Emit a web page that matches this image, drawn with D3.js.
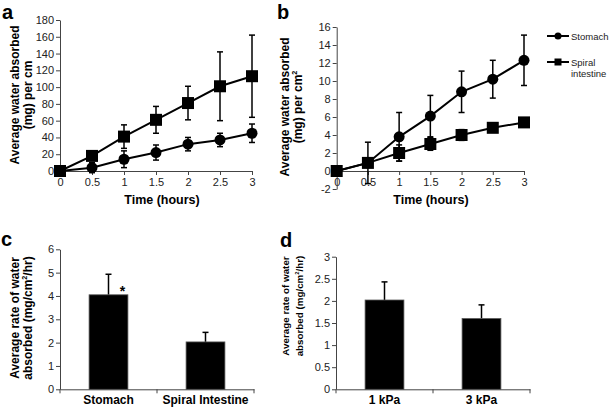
<!DOCTYPE html>
<html>
<head>
<meta charset="utf-8">
<script src="https://cdn.jsdelivr.net/npm/d3@7"></script>
<style>
  body { margin: 0; background: #fff; }
  svg text { font-family: "Liberation Sans", Arial, sans-serif; }
</style>
</head>
<body>
<script>
// time points (hours)
var hours = [0, 0.5, 1, 1.5, 2, 2.5, 3];

// panel a: mg per cm
var aStomach = [0, 4, 14, 22, 32, 37, 45];
var aStomachErr = [0, 6, 10, 9, 8, 8, 11];
var aSpiral = [0, 18, 41, 61, 81, 101, 113];
var aSpiralErr = [0, 4, 14, 16, 20, 41, 49];

// panel b: mg per cm2
var bStomach = [0, 0.9, 3.8, 6.1, 8.8, 10.2, 12.3];
var bStomachErr = [0, 2.3, 2.7, 2.3, 2.3, 2.1, 2.8];
var bSpiral = [0, 0.9, 2.0, 3.0, 4.0, 4.8, 5.4];
var bSpiralErr = [0, 0.3, 0.9, 0.7, 0.6, 0.3, 0.3];

// panel c
var cCats = ["Stomach", "Spiral Intestine"];
var cVals = [4.05, 2.03];
var cErr = [0.88, 0.41];

// panel d
var dCats = ["1 kPa", "3 kPa"];
var dVals = [2.02, 1.6];
var dErr = [0.41, 0.31];

var aTicksY = [0, 20, 40, 60, 80, 100, 120, 140, 160, 180];
var bTicksY = [-2, 0, 2, 4, 6, 8, 10, 12, 14, 16];
var cTicksY = [0, 1, 2, 3, 4, 5, 6];
var dTicksY = [0, 0.5, 1, 1.5, 2, 2.5, 3];

var axisColor = "#444";
var textColor = "#222";
var plain = function (d) { return String(d); };

var svg = d3.select("body").append("svg")
  .attr("width", 609)
  .attr("height", 408);

function styleAxis(g) {
  g.select(".domain").attr("stroke", axisColor).attr("stroke-width", 1);
  g.selectAll(".tick line").attr("stroke", axisColor);
  g.selectAll(".tick text").attr("fill", textColor).attr("font-size", "11px")
    .attr("font-family", "'Liberation Sans', Arial, sans-serif");
}

function panelLetter(t, x, y) {
  svg.append("text").attr("x", x).attr("y", y).text(t)
    .attr("font-size", "20px").attr("font-weight", "bold").attr("fill", "#000");
}

// rotated two-line title; each line = [text, sup, rest]
function yTitle(lines, xs, cy, size) {
  lines.forEach(function (ln, i) {
    var t = svg.append("text")
      .attr("transform", "translate(" + xs[i] + "," + cy + ") rotate(-90)")
      .attr("text-anchor", "middle")
      .attr("font-size", size + "px").attr("font-weight", "bold").attr("fill", "#000");
    t.append("tspan").text(ln[0]);
    if (ln[1]) {
      t.append("tspan").text(ln[1]).attr("font-size", (size * 0.6) + "px").attr("dy", -size * 0.4);
      if (ln[2]) t.append("tspan").text(ln[2]).attr("dy", size * 0.4);
    }
  });
}

function linePanel(x, y, ticksY, xAxisY, s1, e1, s2, e2) {
  var gx = svg.append("g").attr("transform", "translate(0," + xAxisY + ")")
    .call(d3.axisBottom(x).tickValues(hours).tickSize(4).tickSizeOuter(0).tickPadding(3).tickFormat(plain));
  styleAxis(gx);
  var gy = svg.append("g").attr("transform", "translate(" + x.range()[0] + ",0)")
    .call(d3.axisLeft(y).tickValues(ticksY).tickSize(4).tickSizeOuter(0).tickPadding(2).tickFormat(plain));
  styleAxis(gy);

  var line = d3.line().x(function (d, i) { return x(hours[i]); }).y(function (d) { return y(d); });

  [[s1, e1], [s2, e2]].forEach(function (ser) {
    svg.append("path").datum(ser[0]).attr("d", line)
      .attr("fill", "none").attr("stroke", "#000").attr("stroke-width", 2);
    var g = svg.append("g").attr("stroke", "#000").attr("stroke-width", 1.5);
    ser[0].forEach(function (v, i) {
      if (!ser[1][i]) return;
      var px = x(hours[i]);
      var top = y(v + ser[1][i]), bot = y(v - ser[1][i]);
      g.append("line").attr("x1", px).attr("x2", px).attr("y1", top).attr("y2", bot);
      g.append("line").attr("x1", px - 3).attr("x2", px + 3).attr("y1", top).attr("y2", top);
      g.append("line").attr("x1", px - 3).attr("x2", px + 3).attr("y1", bot).attr("y2", bot);
    });
  });

  svg.append("g").selectAll("circle").data(s1).enter().append("circle")
    .attr("cx", function (d, i) { return x(hours[i]); })
    .attr("cy", function (d) { return y(d); })
    .attr("r", 5.5).attr("fill", "#000");
  svg.append("g").selectAll("rect").data(s2).enter().append("rect")
    .attr("x", function (d, i) { return x(hours[i]) - 6; })
    .attr("y", function (d) { return y(d) - 6; })
    .attr("width", 12).attr("height", 12).attr("fill", "#000");
}

function barPanel(cats, vals, errs, ticksY, x, y) {
  var x0 = x.range()[0], base = y.range()[0];
  var gx = svg.append("g").attr("transform", "translate(0," + base + ")")
    .call(d3.axisBottom(x).tickSize(0).tickPadding(6));
  styleAxis(gx);
  gx.selectAll(".tick text").attr("font-size", "12px").attr("font-weight", "bold").attr("fill", "#000");
  d3.range(cats.length + 1).forEach(function (i) {
    var px = x0 + i * x.step();
    gx.append("line").attr("x1", px).attr("x2", px).attr("y1", 0).attr("y2", 4).attr("stroke", axisColor);
  });
  var gy = svg.append("g").attr("transform", "translate(" + x0 + ",0)")
    .call(d3.axisLeft(y).tickValues(ticksY).tickSize(4).tickSizeOuter(0).tickPadding(2).tickFormat(plain));
  styleAxis(gy);

  var g = svg.append("g");
  vals.forEach(function (v, i) {
    var px = x(cats[i]) + x.bandwidth() / 2;
    var top = y(v + errs[i]);
    g.append("line").attr("x1", px).attr("x2", px).attr("y1", y(v)).attr("y2", top)
      .attr("stroke", "#000").attr("stroke-width", 1.5);
    g.append("line").attr("x1", px - 3).attr("x2", px + 3).attr("y1", top).attr("y2", top)
      .attr("stroke", "#000").attr("stroke-width", 1.5);
    g.append("rect").attr("x", x(cats[i])).attr("y", y(v))
      .attr("width", x.bandwidth()).attr("height", base - y(v))
      .attr("fill", "#000").attr("stroke", "#555").attr("stroke-width", 0.8);
  });
}

// ---- panel a
var ax = d3.scaleLinear().domain([0, 3]).range([60, 252]);
var ay = d3.scaleLinear().domain([0, 180]).range([171, 20]);
linePanel(ax, ay, aTicksY, 171, aStomach, aStomachErr, aSpiral, aSpiralErr);
panelLetter("a", 2, 19);
yTitle([["Average water absorbed"], ["(mg) per cm"]], [19, 32], 95, 12);
svg.append("text").attr("x", 162).attr("y", 204).attr("text-anchor", "middle")
  .attr("font-size", "12.5px").attr("font-weight", "bold").text("Time (hours)");

// ---- panel b
var bx = d3.scaleLinear().domain([0, 3]).range([336.7, 524]);
var by = d3.scaleLinear().domain([-2, 16]).range([189, 27]);
linePanel(bx, by, bTicksY, by(0), bStomach, bStomachErr, bSpiral, bSpiralErr);
panelLetter("b", 277, 19);
yTitle([["Average water absorbed"], ["(mg) per cm", "2"]], [289, 302], 107, 12);
svg.append("text").attr("x", 431).attr("y", 204).attr("text-anchor", "middle")
  .attr("font-size", "12.5px").attr("font-weight", "bold").text("Time (hours)");

// legend
var leg = svg.append("g");
[["Stomach", "circle", 36], ["Spiral", "rect", 62]].forEach(function (l) {
  leg.append("line").attr("x1", 547).attr("x2", 569).attr("y1", l[2]).attr("y2", l[2])
    .attr("stroke", "#000").attr("stroke-width", 2);
  if (l[1] === "circle") leg.append("circle").attr("cx", 558).attr("cy", l[2]).attr("r", 3.5);
  else leg.append("rect").attr("x", 554.5).attr("y", l[2] - 3.5).attr("width", 7).attr("height", 7);
  leg.append("text").attr("x", 571).attr("y", l[2] + 3.5).attr("font-size", "9.5px").attr("fill", "#222").text(l[0]);
});
leg.append("text").attr("x", 571).attr("y", 76.5).attr("font-size", "9.5px").attr("fill", "#222").text("intestine");

// ---- panel c
var cx = d3.scaleBand().domain(cCats).range([60, 254]).paddingInner(0.6).paddingOuter(0.3);
var cy = d3.scaleLinear().domain([0, 6]).range([389.3, 249.3]);
barPanel(cCats, cVals, cErr, cTicksY, cx, cy);
panelLetter("c", 1, 246);
yTitle([["Average rate of water"], ["absorbed (mg/cm", "2", "/hr)"]], [19, 32], 318, 12);
svg.append("text").attr("x", cx(cCats[0]) + cx.bandwidth() / 2 + 14).attr("y", cy(cVals[0]) + 1)
  .attr("text-anchor", "middle").attr("font-size", "14px").attr("font-weight", "bold").text("*");

// ---- panel d
var dx = d3.scaleBand().domain(dCats).range([336, 530]).paddingInner(0.6).paddingOuter(0.3);
var dy = d3.scaleLinear().domain([0, 3]).range([389.3, 256.7]);
barPanel(dCats, dVals, dErr, dTicksY, dx, dy);
panelLetter("d", 280, 247);
yTitle([["Average rate of water"], ["absorbed (mg/cm", "2", "/hr)"]], [289, 303], 306, 9.8);
</script>
</body>
</html>
